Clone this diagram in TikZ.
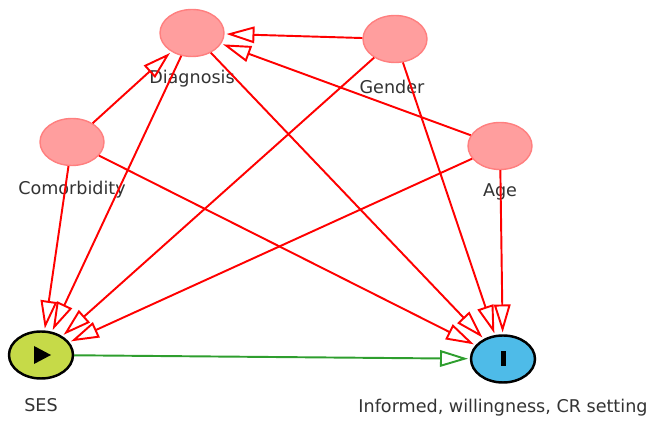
\documentclass[tikz,border=0pt]{standalone}
\usepackage{fontspec}
\setmainfont{DejaVu Sans}
\usetikzlibrary{arrows.meta,shapes.geometric}
\definecolor{adjfill}{HTML}{FF9E9E}
\definecolor{adjline}{HTML}{FF7F7F}
\definecolor{expfill}{HTML}{C6DA48}
\definecolor{outfill}{HTML}{4EBBE8}
\definecolor{causal}{HTML}{2E9E2E}
\definecolor{labtext}{HTML}{333333}
\tikzset{
  var/.style={ellipse,minimum width=1.28cm,minimum height=0.94cm,inner sep=0pt},
  adj/.style={var,fill=adjfill,draw=adjline,line width=0.8pt},
  key/.style={var,draw=black,line width=1.4pt},
  lab/.style={text=labtext,font=\fontsize{10}{12}\selectfont},
  biasing/.style={draw=red,line width=1.1pt,shorten >=1pt,-{Triangle[open,length=0.56cm,width=0.33cm]}},
  effect/.style={draw=causal,line width=1.1pt,shorten >=1pt,-{Triangle[open,length=0.56cm,width=0.33cm]}}
}
\begin{document}
\begin{tikzpicture}
\useasboundingbox (0,0) rectangle (13.06,8.44);
\node[adj] (diag) at (3.84,7.78) {};
\node[adj] (gender) at (7.90,7.66) {};
\node[adj] (comorb) at (1.44,5.60) {};
\node[adj] (age) at (10.00,5.52) {};
\node[key,fill=expfill] (ses) at (0.82,1.34) {};
\node[key,fill=outfill] (inf) at (10.06,1.26) {};
\node[lab] (diaglab) at (3.84,6.86) {Diagnosis};
\node[lab] (genderlab) at (7.84,6.70) {Gender};
\node[lab] (comorblab) at (1.44,4.64) {Comorbidity};
\node[lab] (agelab) at (10.00,4.60) {Age};
\node[lab] (seslab) at (0.82,0.34) {SES};
\node[lab] (inflab) at (10.06,0.28) {Informed, willingness, CR setting};
\fill ([shift={(-0.14,0.18)}]ses.center) -- ([shift={(-0.14,-0.18)}]ses.center) -- ([shift={(0.2,0)}]ses.center) -- cycle;
\fill ([shift={(-0.05,-0.15)}]inf.center) rectangle ([shift={(0.05,0.15)}]inf.center);
\draw[biasing] (gender) -- (diag);
\draw[biasing] (age) -- (diag);
\draw[biasing] (comorb) -- (diag);
\draw[biasing] (diag) -- (ses);
\draw[biasing] (diag) -- (inf);
\draw[biasing] (gender) -- (ses);
\draw[biasing] (gender) -- (inf);
\draw[biasing] (comorb) -- (ses);
\draw[biasing] (comorb) -- (inf);
\draw[biasing] (age) -- (ses);
\draw[biasing] (age) -- (inf);
\draw[effect] (ses) -- (inf);
\end{tikzpicture}
\end{document}
